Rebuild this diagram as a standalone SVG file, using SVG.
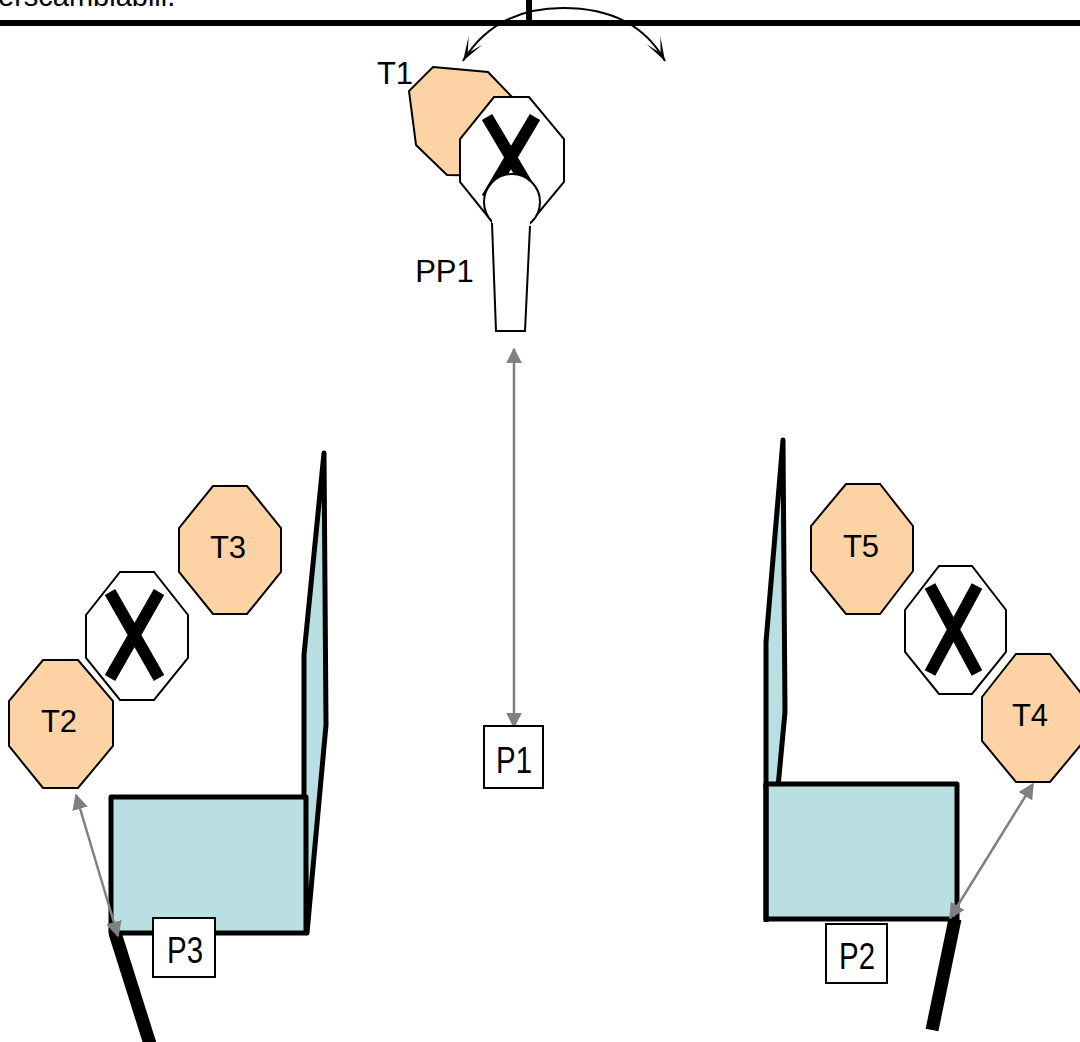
<svg xmlns="http://www.w3.org/2000/svg" width="1080" height="1042" viewBox="0 0 1080 1042">
<defs>
<style>
text{font-family:"Liberation Sans",Arial,sans-serif;fill:#000}
.t{font-size:31px;text-anchor:middle}
.p{font-size:36px;text-anchor:middle}
.oct{stroke:#000;stroke-width:2;stroke-linejoin:miter}
.o{fill:#fdd2a5}
.w{fill:#fff}
.x{stroke:#000;stroke-width:12;fill:none}
.box{fill:#fff;stroke:#000;stroke-width:2}
.teal{fill:#b9dfe2;stroke:#000;stroke-width:5;stroke-linejoin:round}
.bar{stroke:#000;fill:none}
.g{stroke:#808080;stroke-width:2.500;fill:none;marker-start:url(#ga);marker-end:url(#ga)}
</style>
<marker id="ga" viewBox="0 0 10 10" refX="9" refY="5" markerWidth="16" markerHeight="16" markerUnits="userSpaceOnUse" orient="auto-start-reverse"><path d="M0 0L10 5L0 10Z" fill="#808080"/></marker>
<marker id="oa" viewBox="0 0 26 18" refX="25" refY="9" markerWidth="26" markerHeight="18" markerUnits="userSpaceOnUse" orient="auto-start-reverse"><path d="M1 1L25 9L1 17L16 9Z" fill="#000"/></marker>
</defs>
<text x="-2" y="6" font-size="29">erscambiabili.</text>
<g id="wall"><path class="bar" stroke-width="6" d="M0 23H1080"/><path class="bar" stroke-width="6" d="M529 0V26"/></g>
<g id="T1"><polygon class="oct o" points="433,67 488,72 512,97 512,176 447,175 416,145 409,91"/><text class="t" x="395" y="84">T1</text></g>
<g id="PP1">
<polygon class="oct w" points="494,97 529,97 564,139 564,182 530,223 493,223 460,182 460,139"/>
<path class="x" d="M487 117L535 198M535 117L487 198"/>
<circle cx="512" cy="202" r="28" fill="#fff" stroke="#000" stroke-width="2"/>
<path fill="#fff" d="M492 220H530L525 331H496Z"/>
<path fill="none" stroke="#000" stroke-width="2" d="M492 223L496 331L525 331L530 226"/>
<text class="t" x="444.500" y="282">PP1</text>
</g>
<g id="T3"><polygon class="oct o" points="213,486 247,486 281,528 281,572 247,614 213,614 179,572 179,528"/><text class="t" x="228" y="558">T3</text></g>
<g id="XL"><polygon class="oct w" points="120,572 154,572 188,615 188,658 154,700 120,700 86,658 86,615"/><path class="x" d="M110 592L159 678M159 592L110 678"/></g>
<g id="T2"><polygon class="oct o" points="43,660 78,660 113,701 113,746 78,788 43,788 9,746 9,701"/><text class="t" x="59" y="732">T2</text></g>
<g id="panelL">
<polygon class="teal" points="324,453 304,655 304,800 307,933 326,725"/>
<rect class="teal" x="111" y="797" width="195" height="136"/>
<path class="bar" stroke-width="13" d="M115 933L150 1044"/>
</g>
<g id="T5"><polygon class="oct o" points="846,484 880,484 913,526 913,571 880,614 846,614 811,571 811,526"/><text class="t" x="861" y="557">T5</text></g>
<g id="XR"><polygon class="oct w" points="939,566 972,566 1006,610 1006,652 972,694 939,694 905,652 905,610"/><path class="x" d="M930 586L977 673M977 586L930 673"/></g>
<g id="T4"><polygon class="oct o" points="1016,654 1050,654 1084,697 1084,741 1050,782 1016,782 982,741 982,697"/><text class="t" x="1030" y="726">T4</text></g>
<g id="panelR">
<polygon class="teal" points="783,440 766,642 766,787 778,787 785,712"/>
<path class="teal" d="M766 784H957V919H766Z"/>
<path class="bar" stroke-width="5" d="M766 784V922"/>
<path class="bar" stroke-width="13" d="M955 919L932 1030"/>
</g>
<g id="connectors">
<path d="M463 61C485 25 520 8 563 8C610 8 645 25 665 61" fill="none" stroke="#000" stroke-width="2" marker-start="url(#oa)" marker-end="url(#oa)"/>
<path class="g" d="M514 349V727"/>
<path class="g" d="M76 795L118 936"/>
<path class="g" d="M1033 784L950 918"/>
</g>
<g id="P1"><rect class="box" x="484" y="726" width="59" height="62"/><text class="p" x="514" y="773" textLength="36" lengthAdjust="spacingAndGlyphs">P1</text></g>
<g id="P2"><rect class="box" x="826" y="924" width="61" height="59"/><text class="p" x="857" y="969" textLength="36" lengthAdjust="spacingAndGlyphs">P2</text></g>
<g id="P3"><rect class="box" x="153" y="918" width="62" height="59"/><text class="p" x="185" y="963" textLength="36" lengthAdjust="spacingAndGlyphs">P3</text></g>
</svg>
